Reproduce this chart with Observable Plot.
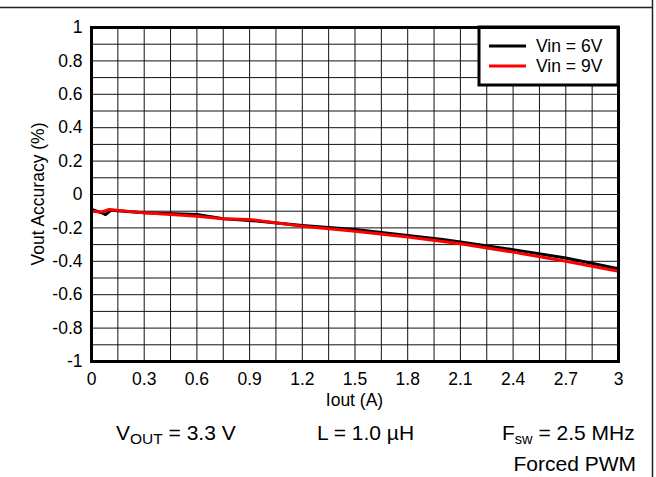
<!DOCTYPE html>
<html><head><meta charset="utf-8">
<script src="https://cdn.jsdelivr.net/npm/d3@7"></script>
<script src="https://cdn.jsdelivr.net/npm/@observablehq/plot@0.6"></script>
<style>body{margin:0;background:#fff}</style>
</head><body><div id="chart"></div>
<script>
// ---- data ----
const seriesNames = ["Vin = 6V", "Vin = 9V"];
const iout6 = [0, 0.03, 0.06, 0.08, 0.11, 0.3, 0.6, 0.75, 0.9, 1.2, 1.5, 1.8, 2.0, 2.1, 2.4, 2.7, 3.0];
const acc6  = [-0.09, -0.10, -0.11, -0.12, -0.095, -0.11, -0.12, -0.145, -0.155, -0.185, -0.21, -0.245, -0.27, -0.285, -0.33, -0.38, -0.445];
const iout9 = [0, 0.06, 0.1, 0.3, 0.6, 0.75, 0.9, 1.2, 1.5, 1.8, 2.1, 2.4, 2.7, 3.0];
const acc9  = [-0.10, -0.105, -0.09, -0.11, -0.13, -0.145, -0.15, -0.19, -0.22, -0.255, -0.295, -0.345, -0.40, -0.46];
const xTicks = [0, 0.3, 0.6, 0.9, 1.2, 1.5, 1.8, 2.1, 2.4, 2.7, 3];
const xTickLabels = ["0", "0.3", "0.6", "0.9", "1.2", "1.5", "1.8", "2.1", "2.4", "2.7", "3"];
const yTicks = [-1, -0.8, -0.6, -0.4, -0.2, 0, 0.2, 0.4, 0.6, 0.8, 1];
const yTickLabels = ["-1", "-0.8", "-0.6", "-0.4", "-0.2", "0", "0.2", "0.4", "0.6", "0.8", "1"];
const xGrid = [0, 0.15, 0.3, 0.45, 0.6, 0.75, 0.9, 1.05, 1.2, 1.35, 1.5, 1.65, 1.8, 1.95, 2.1, 2.25, 2.4, 2.55, 2.7, 2.85, 3];
const yGrid = [-1, -0.9, -0.8, -0.7, -0.6, -0.5, -0.4, -0.3, -0.2, -0.1, 0, 0.1, 0.2, 0.3, 0.4, 0.5, 0.6, 0.7, 0.8, 0.9, 1];
const xLabel = "Iout (A)";
const yLabel = "Vout Accuracy (%)";

const rows = [
  ...iout6.map((x, i) => ({series: seriesNames[0], x, y: acc6[i]})),
  ...iout9.map((x, i) => ({series: seriesNames[1], x, y: acc9[i]}))
];
const colors = ["#000000", "#ff0000"];
const FONT = "'Liberation Sans', Arial, sans-serif";

const plot = Plot.plot({
  width: 656, height: 477,
  marginLeft: 91, marginRight: 38, marginTop: 27, marginBottom: 116,
  style: {fontFamily: FONT, fontSize: "17.5px", background: "#fff", color: "#000", overflow: "visible"},
  x: {domain: [0, 3], label: null},
  y: {domain: [-1, 1], label: null},
  color: {domain: seriesNames, range: colors},
  marks: [
    Plot.ruleX(xGrid, {stroke: "#111", strokeWidth: 1, strokeOpacity: 1}),
    Plot.ruleY(yGrid, {stroke: "#111", strokeWidth: 1, strokeOpacity: 1}),
    Plot.axisX({ticks: xTicks, tickFormat: d => xTickLabels[xTicks.indexOf(d)], tickSize: 0, tickPadding: 11, label: null, fontSize: 17.5}),
    Plot.axisY({ticks: yTicks, tickFormat: d => yTickLabels[yTicks.indexOf(d)], tickSize: 0, tickPadding: 9, label: null, fontSize: 17.5}),
    Plot.line(rows, {x: "x", y: "y", z: "series", stroke: "series", strokeWidth: 3, strokeLinejoin: "round"}),
    Plot.frame({stroke: "#000", strokeWidth: 3})
  ]
});
document.getElementById("chart").appendChild(plot);

const svg = d3.select(plot);
const xs = plot.scale("x"), ys = plot.scale("y");
const frameEl = plot.querySelector('[aria-label="frame"]');

// legend (inserted below frame)
const lg = document.createElementNS("http://www.w3.org/2000/svg", "g");
plot.insertBefore(lg, frameEl);
const L = d3.select(lg).attr("text-anchor", "start");
L.append("rect").attr("x", 479).attr("y", 27).attr("width", 139).attr("height", 58)
  .attr("fill", "#fff").attr("stroke", "#000").attr("stroke-width", 3);
seriesNames.forEach((name, i) => {
  const yy = 46 + i * 20;
  L.append("line").attr("x1", 489).attr("x2", 526).attr("y1", yy).attr("y2", yy)
    .attr("stroke", colors[i]).attr("stroke-width", 3);
  L.append("text").attr("x", 536).attr("y", yy + 6).attr("font-size", 17.5)
    .attr("font-family", FONT).attr("fill", "#000").attr("text-anchor", "start").text(name);
});

// axis titles
svg.append("text").attr("x", (xs.range[0] + xs.range[1]) / 2).attr("y", 406)
  .attr("text-anchor", "middle").attr("font-size", 17.5).attr("font-family", FONT).text(xLabel);
svg.append("text").attr("transform", `translate(44,${(ys.range[0] + ys.range[1]) / 2}) rotate(-90)`)
  .attr("text-anchor", "middle").attr("font-size", 17.5).attr("font-family", FONT).text(yLabel);

// condition annotations
const ann = svg.append("g").attr("font-family", FONT).attr("font-size", 21).attr("fill", "#000").attr("text-anchor", "start");
const t1 = ann.append("text").attr("x", 116).attr("y", 440);
t1.append("tspan").text("V");
t1.append("tspan").attr("font-size", 15.5).attr("dy", 4).text("OUT");
t1.append("tspan").attr("dy", -4).text(" = 3.3 V");
ann.append("text").attr("x", 317).attr("y", 440).text("L = 1.0 µH");
const t3 = ann.append("text").attr("x", 502).attr("y", 440);
t3.append("tspan").text("F");
t3.append("tspan").attr("font-size", 14.5).attr("dy", 4).text("sw");
t3.append("tspan").attr("dy", -4).text(" = 2.5 MHz");
ann.append("text").attr("x", 636).attr("y", 471).attr("text-anchor", "end").text("Forced PWM");

// outer figure border (cropped)
svg.append("line").attr("x1", 0).attr("x2", 652.5).attr("y1", 7.5).attr("y2", 7.5).attr("stroke", "#222").attr("stroke-width", 1.5);
svg.append("line").attr("x1", 652.5).attr("x2", 652.5).attr("y1", 0).attr("y2", 477).attr("stroke", "#222").attr("stroke-width", 1.5);
</script></body></html>
